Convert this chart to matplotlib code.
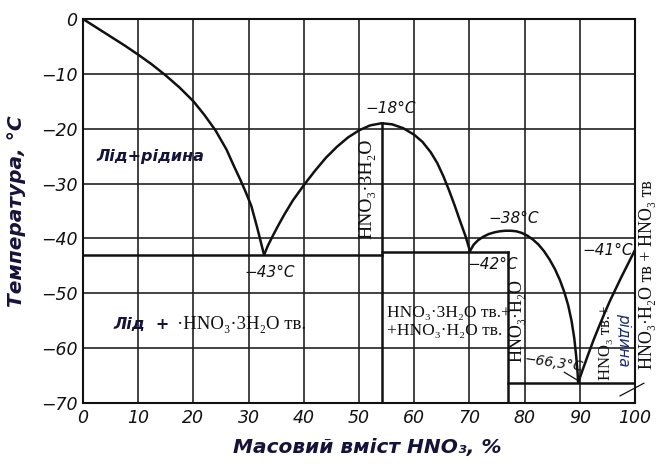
import matplotlib
matplotlib.use("Agg")
import matplotlib.pyplot as plt

# liquidus branches (HNO3 mass %, temperature C)
ice_x = [0, 2.5, 5, 7.5, 10, 12.5, 15, 17.5, 20, 22, 24, 26, 27.2, 28.5, 29.5, 30.5, 31.6, 32.8]
ice_t = [0, -1.6, -3.2, -4.8, -6.5, -8.3, -10.3, -12.5, -15, -17.5, -20.3, -23.8, -26.5,
         -29.3, -31.6, -34.1, -38.2, -43]

tri_x = [32.8, 33.5, 34.5, 35.5, 36.5, 38, 40, 42, 44, 46, 48, 50, 52, 54.1,
         56, 58, 60, 61.5, 63, 64.2, 65.3, 66.3, 67.3, 68.3, 69.3, 70.1]
tri_t = [-43, -41.3, -39.3, -37.4, -35.6, -33.1, -30.3, -27.7, -25.3, -23.3, -21.6, -20.3, -19.4, -19,
         -19.2, -19.9, -21.1, -22.4, -24.3, -26.3, -28.7, -31.2, -33.9, -36.8, -39.6, -42.3]

mono_x = [70.1, 70.8, 71.6, 72.5, 73.5, 74.5, 75.5, 76.5, 77.5, 78.5, 79.5, 80.5, 81.5,
          82.5, 83.5, 84.5, 85.5, 86.4, 87.2, 87.9, 88.5, 89.0, 89.35, 89.6, 89.7]
mono_t = [-42.3, -41.1, -40.3, -39.7, -39.2, -38.9, -38.7, -38.6, -38.6, -38.7, -39.0, -39.5, -40.2,
          -41.1, -42.3, -43.8, -45.6, -47.6, -49.8, -52.2, -55.0, -58.2, -61.5, -64.5, -66.3]

acid_x = [89.7, 90.5, 91.5, 92.5, 93.5, 94.5, 95.5, 96.5, 97.5, 98.5, 99.5, 100]
acid_t = [-66.3, -64, -61.2, -58.5, -56, -53.6, -51.3, -49.2, -47.1, -45.1, -43.1, -42.1]

# eutectics and compound compositions
eut_t = [-43, -42.4, -66.3]
trihydrate_x = 54.1
trihydrate_top = -19
monohydrate_x = 77

x_ticks = [0, 10, 20, 30, 40, 50, 60, 70, 80, 90, 100]
y_ticks = [0, -10, -20, -30, -40, -50, -60, -70]

ink = "#111111"
lab_col = "#14143a"
chem = ["Liberation Serif", "DejaVu Serif"]

fig = plt.figure(figsize=(6.61, 4.67), dpi=100)
ax = fig.add_axes([83 / 661, 1 - 403 / 467, 552 / 661, 384 / 467])
ax.set_xlim(0, 100)
ax.set_ylim(-70, 0)
ax.set_xticks(x_ticks)
ax.set_yticks(y_ticks)
ax.set_xticklabels([str(v) for v in x_ticks], style="italic", fontsize=12.5)
ax.set_yticklabels(["0"] + ["\u2212" + str(-v) for v in y_ticks[1:]], style="italic", fontsize=12.5)
ax.tick_params(length=0, pad=4, colors=ink)
ax.grid(True, color="#222222", lw=1.2)
for s in ax.spines.values():
    s.set_linewidth(1.5)
    s.set_color(ink)

lw = 1.8
for xs, ts in [(ice_x, ice_t), (tri_x, tri_t), (mono_x, mono_t), (acid_x, acid_t)]:
    ax.plot(xs, ts, color=ink, lw=lw, solid_joinstyle="round", solid_capstyle="round")

# solidus / compound lines
ax.plot([0, trihydrate_x], [eut_t[0], eut_t[0]], color=ink, lw=lw)
ax.plot([trihydrate_x, trihydrate_x], [trihydrate_top, -70], color=ink, lw=lw)
ax.plot([trihydrate_x, monohydrate_x], [eut_t[1], eut_t[1]], color=ink, lw=lw)
ax.plot([monohydrate_x, monohydrate_x], [eut_t[1], -70], color=ink, lw=lw)
ax.plot([monohydrate_x, 100], [eut_t[2], eut_t[2]], color=ink, lw=lw)

# temperature notes
tk = dict(style="italic", fontsize=11, color=ink, ha="center", va="center")
ax.text(55.8, -16.4, "\u221218\u00b0C", **tk)
ax.text(33.8, -46.2, "\u221243\u00b0C", **tk)
ax.text(74.3, -44.7, "\u221242\u00b0C", **tk)
ax.text(78.0, -36.4, "\u221238\u00b0C", **tk)
ax.text(95.0, -42.2, "\u221241\u00b0C", **tk)
ax.text(85.2, -62.7, "\u221266,3\u00b0C", rotation=-8, style="italic", fontsize=10,
        color=ink, ha="center", va="center")
ax.plot([87.2, 89.5], [-64.4, -65.8], color=ink, lw=0.9)
ax.plot([97.3, 101.6], [-68.7, -66.4], color=ink, lw=0.9, clip_on=False)

# phase region labels
ax.text(2.5, -25, "Лід+рідина", fontsize=11.5, fontweight="bold", style="italic",
        color=lab_col, va="center")
ax.text(5.5, -55.6, "Лід  +", fontsize=11.5, fontweight="bold", style="italic",
        color=lab_col, va="center")
ax.text(17.0, -55.6, "·HNO₃·3H₂O тв.", family=chem, fontsize=13.5, color=ink, va="center")
ax.text(51.4, -31, "HNO₃·3H₂O", family=chem, fontsize=14, color=ink,
        rotation=90, ha="center", va="center")
ax.text(55.0, -55.2, "HNO₃·3H₂O тв.+\n+HNO₃·H₂O тв.", family=chem, fontsize=12.5,
        color=ink, va="center", linespacing=1.15)
ax.text(78.7, -55.0, "HNO₃·H₂O", family=chem, fontsize=13, color=ink,
        rotation=90, ha="center", va="center")
ax.text(94.7, -59.0, "HNO₃ тв.+", family=chem, fontsize=12, color=ink,
        rotation=90, ha="center", va="center")
ax.text(97.9, -58.5, "рідина", fontsize=11, style="italic", color="#1c2a7a",
        rotation=-90, ha="center", va="center")
ax.text(102.3, -46.5, "HNO₃·H₂O тв + HNO₃ тв", family=chem, fontsize=13, color=ink,
        rotation=90, ha="center", va="center", clip_on=False)

fig.text(17 / 661, 1 - 211 / 467, "Температура, °С", rotation=90, fontsize=14.5,
         fontweight="bold", style="italic", color=lab_col, ha="center", va="center")
fig.text(367 / 661, 1 - 448 / 467, "Масовий вміст HNO₃, %", fontsize=14.5,
         fontweight="bold", style="italic", color=lab_col, ha="center", va="center")

fig.savefig("out.png", dpi=100)
